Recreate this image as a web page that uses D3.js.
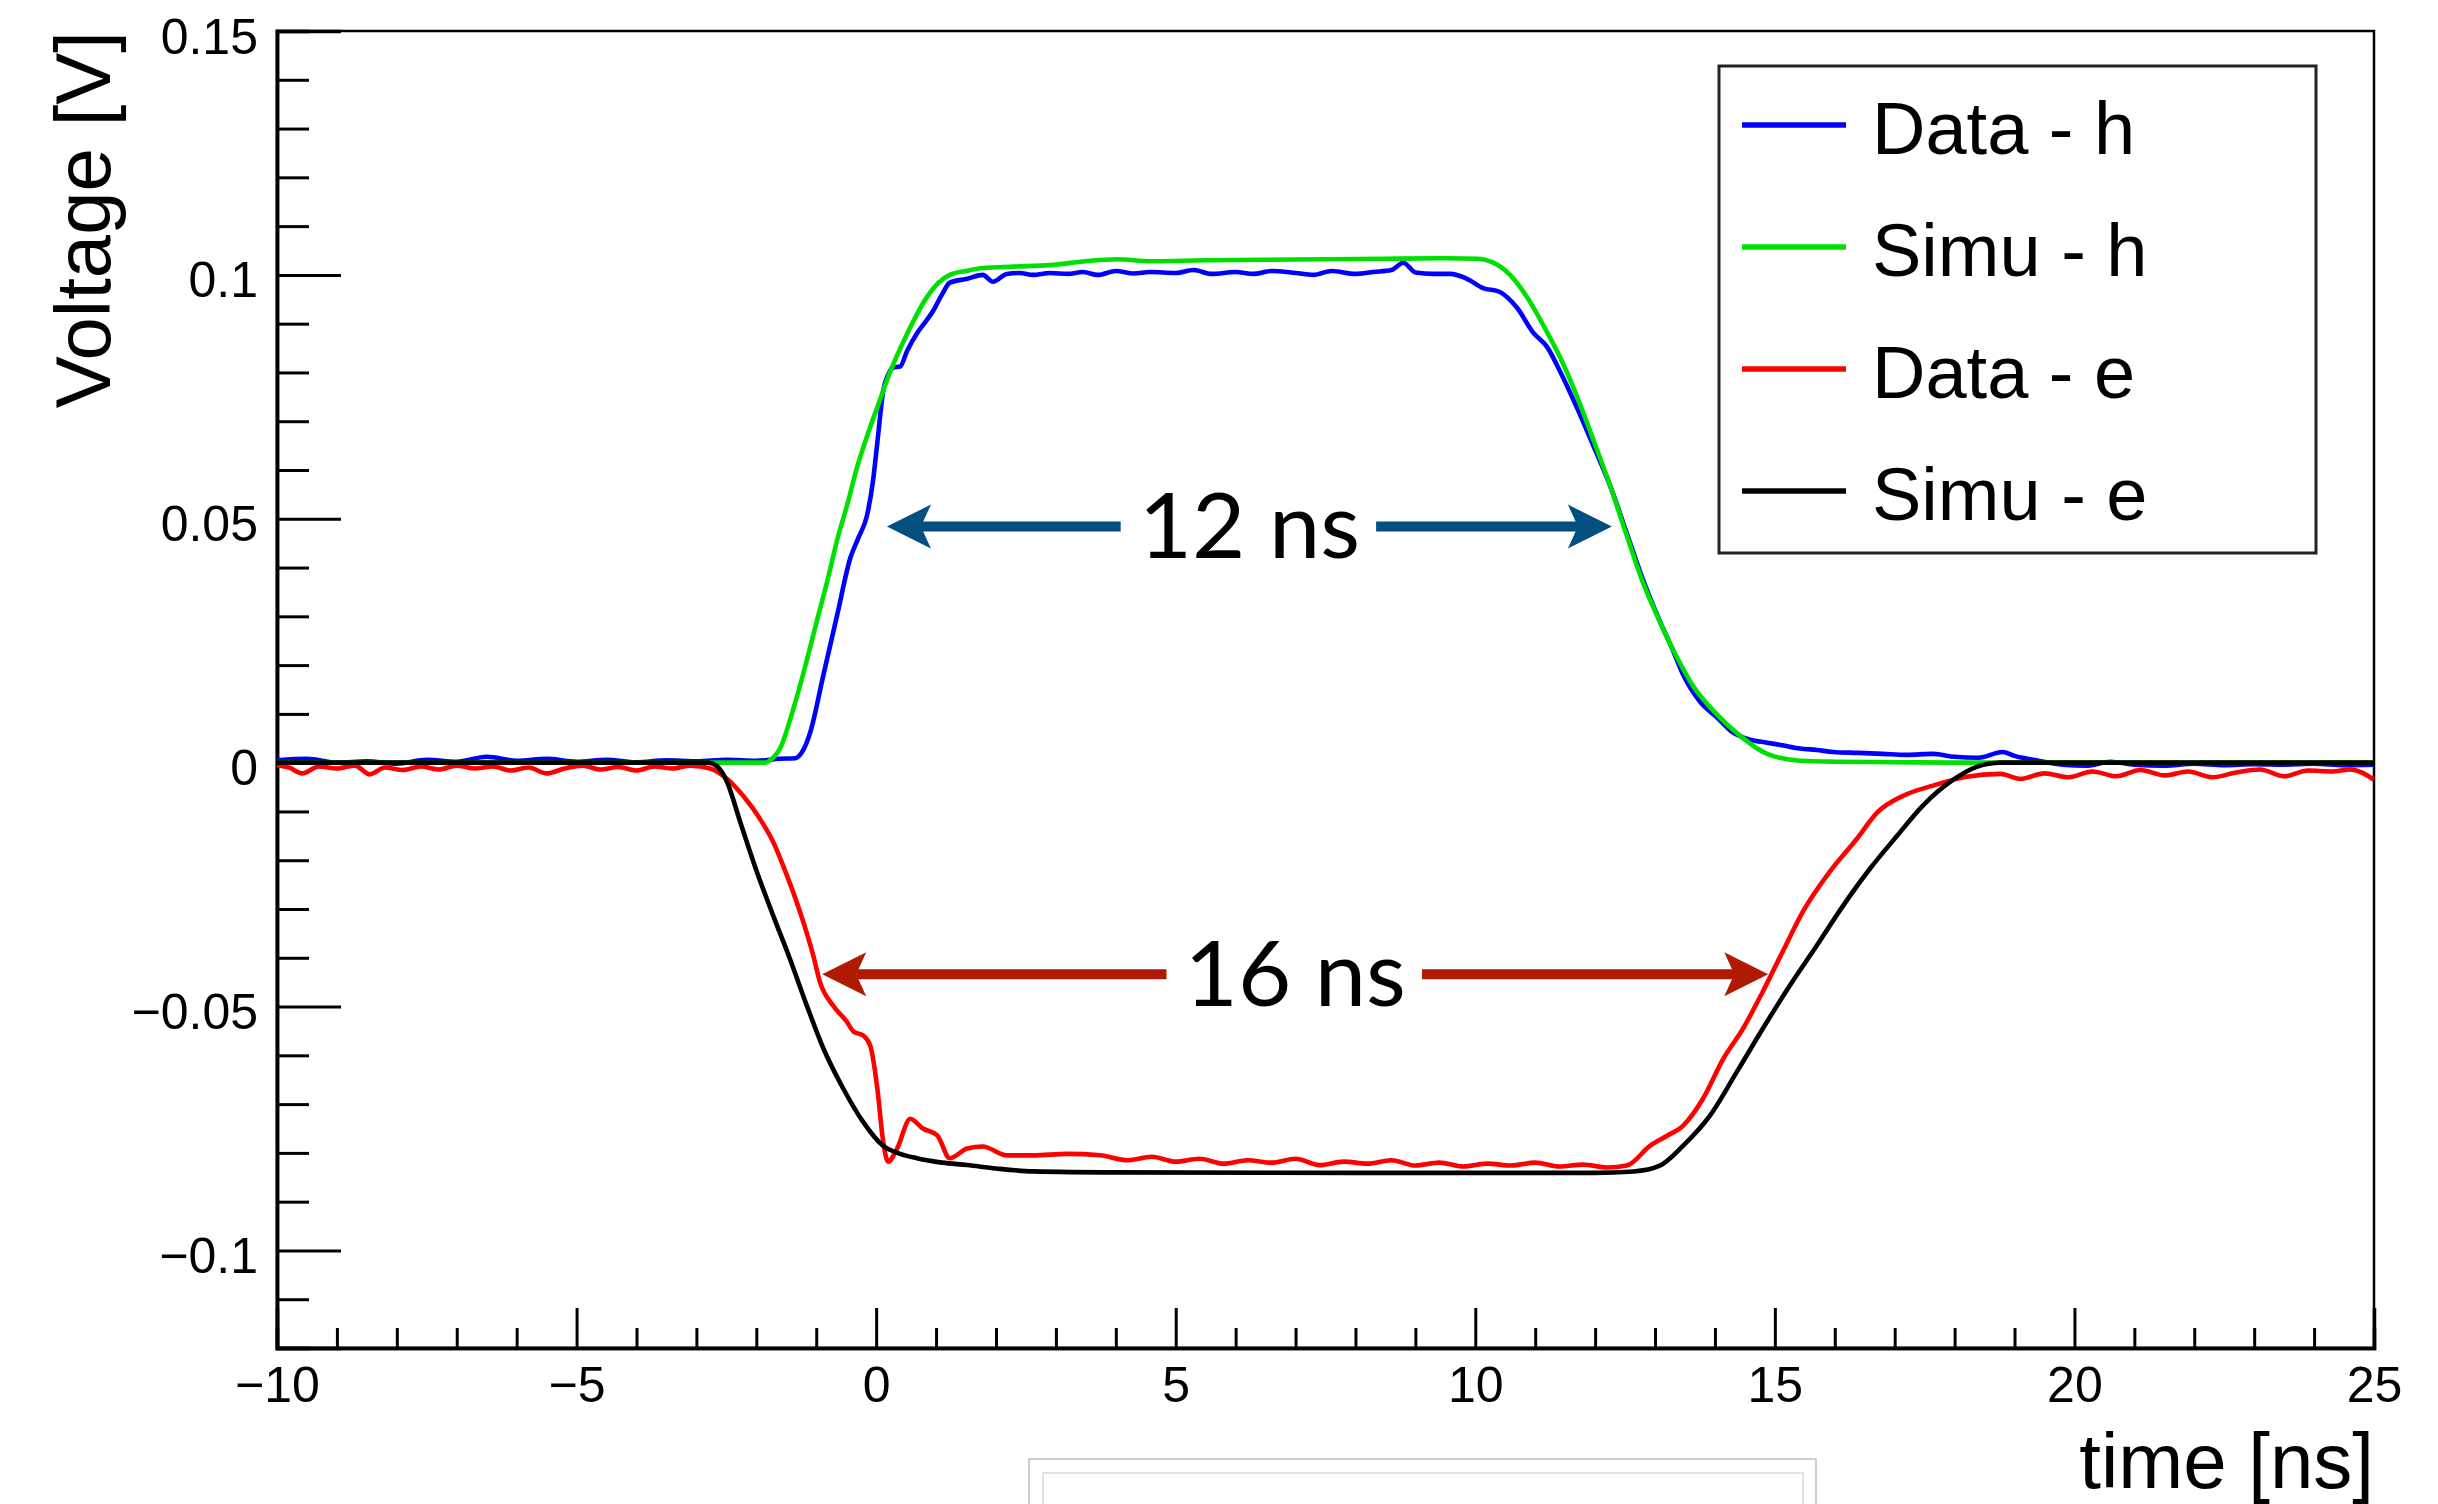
<!DOCTYPE html>
<html><head><meta charset="utf-8">
<script src="https://cdn.jsdelivr.net/npm/d3@7"></script>
<style>
html,body{margin:0;padding:0;background:#fff;}
svg{display:block;}
</style></head><body>
<svg id="chart" width="2438" height="1504"></svg>
<script>
// ---------------- DATA ----------------
const seriesNames = ["Data - h", "Simu - h", "Data - e", "Simu - e"];

const xTicks = [-10, -5, 0, 5, 10, 15, 20, 25];
const xTickLabels = ["\u221210", "\u22125", "0", "5", "10", "15", "20", "25"];
const yTicks = [-0.1, -0.05, 0, 0.05, 0.1, 0.15];
const yTickLabels = ["\u22120.1", "\u22120.05", "0", "0.05", "0.1", "0.15"];

// time [ns], voltage [V]
const dataH = [
  [-10,0.0005],[-9.5,0.0008],[-9,0],[-8.5,0.0003],[-8,-0.0002],[-7.5,0.0006],[-7,0.0002],
  [-6.5,0.0012],[-6,0.0004],[-5.5,0.0008],[-5,0.0002],[-4.5,0.0006],[-4,0.0001],[-3.5,0.0005],
  [-3,0.0003],[-2.5,0.0006],[-2,0.0004],[-1.6,0.0008],[-1.35,0.0009],[-1.22,0.0025],[-1.1,0.0062],[-0.88,0.018],
  [-0.65,0.0303],[-0.43,0.042],[-0.3,0.046],[-0.15,0.0508],[-0.05,0.058],[0.02,0.0656],[0.12,0.0764],
  [0.2,0.0795],[0.28,0.081],[0.4,0.0812],[0.52,0.0845],[0.68,0.088],[0.8,0.090],[0.95,0.0926],
  [1.1,0.096],[1.23,0.0984],[1.52,0.0992],[1.78,0.1000],[1.95,0.0986],[2.18,0.1002],[2.4,0.1004],
  [2.62,0.1000],[2.9,0.1004],[3.2,0.1002],[3.45,0.1006],[3.7,0.1000],[4.0,0.1008],[4.3,0.1003],
  [4.57,0.1006],[5.0,0.1004],[5.3,0.1010],[5.6,0.1002],[6.0,0.1006],[6.3,0.1002],[6.6,0.1008],
  [7.0,0.1004],[7.3,0.1000],[7.6,0.1008],[8.0,0.1002],[8.3,0.1006],[8.6,0.1010],[8.8,0.1025],
  [9.0,0.1005],[9.3,0.1002],[9.58,0.1002],[9.86,0.0992],[10.13,0.0973],[10.41,0.0965],[10.7,0.0932],
  [10.97,0.0881],[11.2,0.0852],[11.42,0.0801],[11.7,0.0727],[11.97,0.065],[12.25,0.0568],[12.53,0.047],
  [12.8,0.0375],[13.08,0.029],[13.3,0.023],[13.47,0.018],[13.75,0.0125],[14.04,0.0092],[14.3,0.0062],
  [14.59,0.0047],[14.87,0.0041],[15.15,0.0035],[15.42,0.0029],[15.7,0.0026],[15.97,0.0022],[16.4,0.002],
  [16.8,0.0018],[17.2,0.0016],[17.64,0.0018],[18.0,0.0012],[18.4,0.001],[18.8,0.0022],[19.0,0.0014],
  [19.4,0.0004],[19.8,-0.0004],[20.2,-0.0006],[20.6,0.0002],[21,-0.0004],[21.5,-0.0006],[22,-0.0002],
  [22.5,-0.0005],[23,-0.0003],[23.5,-0.0004],[24,-0.0002],[24.5,-0.0005],[25,-0.0004]
];

const simuH = [
  [-10,0],[-4,0],[-1.85,0],[-1.77,0.0005],[-1.6,0.003],[-1.39,0.0107],[-1.2,0.019],[-0.99,0.029],
  [-0.8,0.038],[-0.65,0.0457],[-0.48,0.053],[-0.32,0.0605],[-0.15,0.067],[0.015,0.0727],[0.23,0.080],
  [0.52,0.088],[0.85,0.0955],[1.05,0.0985],[1.23,0.100],[1.5,0.1008],[1.78,0.1014],[2.3,0.1017],
  [2.9,0.102],[3.5,0.1028],[4.02,0.1032],[4.57,0.1028],[5.5,0.1030],[6.5,0.1031],[7.5,0.1032],
  [8.5,0.1033],[9.5,0.1034],[10.03,0.1033],[10.3,0.1025],[10.58,0.100],[10.86,0.0955],[11.13,0.0898],
  [11.42,0.083],[11.7,0.075],[11.97,0.0662],[12.25,0.0568],[12.53,0.0465],[12.8,0.0369],[13.08,0.0289],
  [13.37,0.0215],[13.63,0.0158],[14.04,0.0098],[14.42,0.0055],[14.87,0.0018],[15.42,0.0004],[16,0.0002],
  [17,0.0001],[18,0],[25,0]
];

const dataE = [
  [-10,-0.0005],[-9.8,-0.001],[-9.58,-0.0022],[-9.3,-0.0008],[-9.0,-0.0012],[-8.7,-0.0006],[-8.45,-0.0024],
  [-8.2,-0.001],[-7.9,-0.0015],[-7.6,-0.0008],[-7.3,-0.0014],[-7.0,-0.0006],[-6.7,-0.0012],[-6.4,-0.0008],
  [-6.1,-0.0016],[-5.8,-0.0010],[-5.5,-0.0022],[-5.2,-0.0012],[-4.9,-0.0006],[-4.6,-0.0014],[-4.3,-0.0009],
  [-4.0,-0.0016],[-3.7,-0.0008],[-3.4,-0.0012],[-3.1,-0.0006],[-2.77,-0.0012],[-2.49,-0.0033],[-2.22,-0.0068],
  [-1.94,-0.0115],[-1.72,-0.0162],[-1.49,-0.0231],[-1.27,-0.0306],[-1.05,-0.0395],[-0.94,-0.0449],
  [-0.72,-0.0498],[-0.49,-0.0531],[-0.38,-0.0551],[-0.22,-0.0559],[-0.1,-0.058],[0.02,-0.0668],[0.11,-0.077],
  [0.2,-0.0818],[0.35,-0.0791],[0.57,-0.073],[0.78,-0.075],[1.02,-0.0764],[1.23,-0.0811],[1.52,-0.0791],
  [1.78,-0.0787],[2.18,-0.0805],[2.62,-0.0805],[3.19,-0.0802],[3.74,-0.0805],[4.2,-0.0815],[4.6,-0.0808],
  [5.0,-0.0818],[5.4,-0.0812],[5.8,-0.0822],[6.2,-0.0815],[6.6,-0.082],[7.0,-0.0812],[7.4,-0.0825],
  [7.8,-0.0818],[8.2,-0.0822],[8.6,-0.0815],[9.0,-0.0826],[9.4,-0.082],[9.8,-0.0828],[10.2,-0.0822],
  [10.6,-0.0826],[11.0,-0.082],[11.4,-0.0828],[11.8,-0.0824],[12.2,-0.083],[12.53,-0.0826],[12.92,-0.0785],
  [13.2,-0.0765],[13.47,-0.0744],[13.8,-0.0689],[14.14,-0.0607],[14.47,-0.0545],[14.8,-0.0469],
  [15.14,-0.0385],[15.47,-0.0305],[15.92,-0.0223],[16.37,-0.0156],[16.71,-0.0102],[17.14,-0.0068],
  [17.64,-0.0047],[18.2,-0.0029],[18.76,-0.0023],[19.1,-0.0033],[19.5,-0.0022],[19.9,-0.003],[20.3,-0.0018],
  [20.7,-0.0028],[21.1,-0.0015],[21.5,-0.0026],[21.9,-0.0018],[22.3,-0.0030],[22.7,-0.0020],[23.1,-0.0014],
  [23.5,-0.0028],[23.9,-0.0016],[24.3,-0.0018],[24.6,-0.0014],[25,-0.0035]
];

const simuE = [
  [-10,0],[-4,0],[-2.8,0],[-2.65,-0.0008],[-2.49,-0.0039],[-2.27,-0.0121],[-1.99,-0.0224],[-1.72,-0.0313],
  [-1.44,-0.0402],[-1.16,-0.0497],[-0.88,-0.0586],[-0.55,-0.0668],[-0.22,-0.0736],[0.11,-0.0785],
  [0.4,-0.0802],[0.68,-0.0811],[1.1,-0.082],[1.52,-0.0825],[2.0,-0.0832],[2.62,-0.0838],[4,-0.084],
  [8,-0.0841],[12,-0.0841],[12.64,-0.0838],[13.08,-0.0826],[13.47,-0.0785],[13.92,-0.0723],[14.37,-0.0633],
  [14.8,-0.0545],[15.25,-0.0457],[15.7,-0.0375],[16.14,-0.0293],[16.59,-0.0217],[17.04,-0.015],
  [17.47,-0.0088],[17.93,-0.0039],[18.38,-0.0008],[18.76,0],[25,0]
];

// width annotations: label, start time, end time, voltage level
const annotLabels = ["12 ns", "16 ns"];
const annotStart = [0.18, -0.90];
const annotEnd = [12.28, 14.89];
const annotLevel = [0.0484, -0.0434];

// ---------------- STYLE / LAYOUT ----------------
const W = 2438, H = 1504;
const plot = {left: 277, right: 2374, top: 31, bottom: 1348};
const seriesColors = ["#0000ff", "#00e000", "#ff0000", "#000000"];
const annotColors = ["#034f80", "#b01a02"];
const FONT = "'Liberation Sans', Arial, Helvetica, sans-serif";

const svg = d3.select("#chart");
svg.append("rect").attr("width", W).attr("height", H).attr("fill", "#fff");

const x = d3.scaleLinear().domain([-10, 25]).range([plot.left, plot.right]);
const y = d3.scaleLinear().domain([-0.12, 0.15]).range([plot.bottom, plot.top]);

// frame
svg.append("rect")
  .attr("x", plot.left).attr("y", plot.top)
  .attr("width", plot.right - plot.left).attr("height", plot.bottom - plot.top)
  .attr("fill", "none").attr("stroke", "#000").attr("stroke-width", 2.5);

// minor ticks
const xMinor = d3.range(-10, 25.001, 1).filter(v => Math.abs(v % 5) > 1e-6);
const yMinor = d3.range(-12, 15.001, 1).map(v => v / 100).filter(v => Math.abs(Math.round(v * 100) % 5) !== 0);

const xMinorAxis = d3.axisBottom(x).tickValues(xMinor).tickSize(-20).tickFormat("");
const yMinorAxis = d3.axisLeft(y).tickValues(yMinor).tickSize(-32).tickFormat("");
const xAxis = d3.axisBottom(x).tickValues(xTicks).tickSize(-40).tickPadding(18)
  .tickFormat((d, i) => xTickLabels[i]);
const yAxis = d3.axisLeft(y).tickValues(yTicks).tickSize(-64).tickPadding(19)
  .tickFormat((d, i) => yTickLabels[i]);

function styleAxis(g) {
  g.select(".domain").attr("stroke", "#000").attr("stroke-width", 3.5);
  g.selectAll(".tick line").attr("stroke", "#000").attr("stroke-width", 3);
  g.selectAll("text").attr("font-family", FONT).attr("font-size", 50).attr("fill", "#000");
}

svg.append("g").attr("transform", `translate(0,${plot.bottom})`).call(xMinorAxis).call(styleAxis);
svg.append("g").attr("transform", `translate(${plot.left},0)`).call(yMinorAxis).call(styleAxis);
svg.append("g").attr("transform", `translate(0,${plot.bottom})`).call(xAxis).call(styleAxis)
  .selectAll("text").attr("dy", "0.71em");
svg.append("g").attr("transform", `translate(${plot.left},0)`).call(yAxis).call(styleAxis)
  .selectAll("text").attr("dy", "0.44em");

// axis titles
svg.append("text")
  .attr("transform", `translate(110,${plot.top}) rotate(-90)`)
  .attr("text-anchor", "end")
  .attr("font-family", FONT).attr("font-size", 78)
  .text("Voltage [V]");
svg.append("text")
  .attr("x", plot.right).attr("y", 1488)
  .attr("text-anchor", "end")
  .attr("font-family", FONT).attr("font-size", 78)
  .text("time [ns]");

// curves
svg.append("clipPath").attr("id", "clip").append("rect")
  .attr("x", plot.left).attr("y", plot.top)
  .attr("width", plot.right - plot.left).attr("height", plot.bottom - plot.top);

const lineCurve = d3.line().x(d => x(d[0])).y(d => y(d[1])).curve(d3.curveMonotoneX);

const allSeries = [dataH, simuH, dataE, simuE];
const gCurves = svg.append("g").attr("clip-path", "url(#clip)");
allSeries.forEach((s, i) => {
  gCurves.append("path")
    .attr("d", lineCurve(s))
    .attr("fill", "none")
    .attr("stroke", seriesColors[i])
    .attr("stroke-width", 4.6)
    .attr("stroke-linejoin", "round");
});

// legend
const leg = {x: 1719, y: 66, w: 597, h: 487};
svg.append("rect").attr("x", leg.x).attr("y", leg.y).attr("width", leg.w).attr("height", leg.h)
  .attr("fill", "#fff").attr("stroke", "#222").attr("stroke-width", 3);
seriesNames.forEach((name, i) => {
  const ly = 125 + i * 122;
  svg.append("line").attr("x1", 1742).attr("x2", 1846).attr("y1", ly).attr("y2", ly)
    .attr("stroke", seriesColors[i]).attr("stroke-width", 5.5);
  svg.append("text").attr("x", 1872).attr("y", ly + 29)
    .attr("font-family", FONT).attr("font-size", 74).attr("fill", "#000")
    .text(name);
});

// width annotations (double-headed arrows with centred label)
const AFONT = "Lato, 'Open Sans', sans-serif";
annotLabels.forEach((lab, i) => {
  const x0 = x(annotStart[i]), x1 = x(annotEnd[i]), yy = y(annotLevel[i]);
  const xm = (x0 + x1) / 2;
  const g = svg.append("g");
  const t = g.append("text").attr("x", xm).attr("y", yy).attr("dy", "0.345em")
    .attr("text-anchor", "middle").attr("font-family", AFONT).attr("font-size", 92)
    .attr("fill", "#000").text(lab);
  const bb = t.node().getBBox();
  const col = annotColors[i];
  const headL = 44, headH = 22, notch = 10;
  g.append("line").attr("x1", x0 + headL - notch).attr("x2", bb.x - 18).attr("y1", yy).attr("y2", yy)
    .attr("stroke", col).attr("stroke-width", 10);
  g.append("line").attr("x1", bb.x + bb.width + 16).attr("x2", x1 - headL + notch).attr("y1", yy).attr("y2", yy)
    .attr("stroke", col).attr("stroke-width", 10);
  const head = (tx, dir) => {
    const p = d3.path();
    p.moveTo(tx, yy);
    p.lineTo(tx + dir * headL, yy - headH);
    p.lineTo(tx + dir * (headL - notch), yy);
    p.lineTo(tx + dir * headL, yy + headH);
    p.closePath();
    return p.toString();
  };
  g.append("path").attr("d", head(x0, 1)).attr("fill", col);
  g.append("path").attr("d", head(x1, -1)).attr("fill", col);
});

// faint box at bottom edge (part of the captured picture)
const deco = svg.append("g");
deco.append("rect").attr("x", 1029).attr("y", 1459).attr("width", 787).attr("height", 60)
  .attr("fill", "#fff").attr("stroke", "#cfcfcf").attr("stroke-width", 2);
deco.append("rect").attr("x", 1043).attr("y", 1473).attr("width", 760).attr("height", 50)
  .attr("fill", "none").attr("stroke", "#e2e2e2").attr("stroke-width", 2);
</script>
</body></html>
